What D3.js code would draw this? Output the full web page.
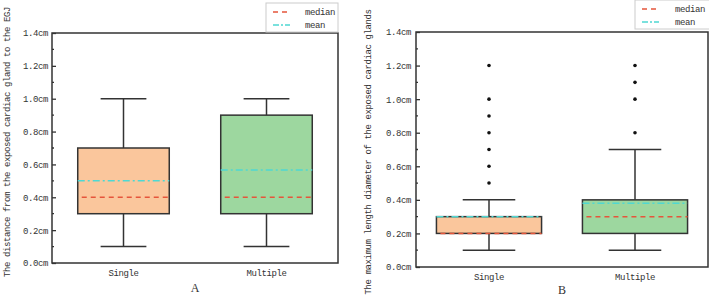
<!DOCTYPE html>
<html>
<head>
<meta charset="utf-8">
<script src="https://cdn.jsdelivr.net/npm/d3@7"></script>
<style>
  body { margin: 0; background: #fff; }
  text { font-family: "Liberation Mono", "DejaVu Sans Mono", monospace; fill: #333; }
</style>
</head>
<body>
<div id="chart"></div>
<script>
// box plot stats
const categories = ["Single", "Multiple"];
const yTicks = [0, 0.2, 0.4, 0.6, 0.8, 1.0, 1.2, 1.4];

// panel A: distance from exposed cardiac gland to EGJ
const lowA = [0.1, 0.1];
const q1A = [0.3, 0.3];
const medA = [0.4, 0.4];
const q3A = [0.7, 0.9];
const highA = [1.0, 1.0];
const meanA = [0.5, 0.566];
const outA = [[], []];

// panel B: maximum length diameter of exposed cardiac glands
const lowB = [0.1, 0.1];
const q1B = [0.2, 0.2];
const medB = [0.2, 0.3];
const q3B = [0.3, 0.4];
const highB = [0.4, 0.7];
const meanB = [0.3, 0.38];
const outB = [[0.5, 0.6, 0.7, 0.8, 0.9, 1.0, 1.2], [0.8, 1.0, 1.1, 1.2]];

const fills = ["#fac69c", "#9dd79f"];
const medColor = "#e5553b", meanColor = "#4fd8d2";

const svg = d3.select("#chart").append("svg")
    .attr("width", 709).attr("height", 297);

function panel(o) {
    const g = svg.append("g");
    const x = d3.scalePoint().domain(categories)
        .range([o.left, o.right]).padding(0.5);
    const y = d3.scaleLinear().domain([0, 1.4]).range([o.bottom, o.top]);
    const bw = (o.right - o.left) * o.boxFrac;

    const rows = categories.map((c, i) => ({
        c, i, low: o.low[i], q1: o.q1[i], med: o.med[i], q3: o.q3[i],
        high: o.high[i], mean: o.mean[i], out: o.out[i]
    }));

    // whiskers
    rows.forEach(d => {
        const cx = x(d.c);
        g.append("line").attr("x1", cx).attr("x2", cx)
            .attr("y1", y(d.low)).attr("y2", y(d.q1));
        g.append("line").attr("x1", cx).attr("x2", cx)
            .attr("y1", y(d.q3)).attr("y2", y(d.high));
        [d.low, d.high].forEach(v => g.append("line")
            .attr("x1", cx - bw / 4).attr("x2", cx + bw / 4)
            .attr("y1", y(v)).attr("y2", y(v)));
    });
    g.selectAll("line").attr("stroke", "#333").attr("stroke-width", 1.5);

    // boxes
    g.selectAll("rect.box").data(rows).enter().append("rect")
        .attr("x", d => x(d.c) - bw / 2)
        .attr("y", d => y(d.q3))
        .attr("width", bw)
        .attr("height", d => y(d.q1) - y(d.q3))
        .attr("fill", d => fills[d.i])
        .attr("stroke", "#333").attr("stroke-width", 1.5);

    // median and mean lines
    g.selectAll("line.med").data(rows).enter().append("line")
        .attr("x1", d => x(d.c) - bw / 2 + 4).attr("x2", d => x(d.c) + bw / 2)
        .attr("y1", d => y(d.med)).attr("y2", d => y(d.med))
        .attr("stroke", medColor).attr("stroke-width", 1.5)
        .attr("stroke-dasharray", "5,4");
    g.selectAll("line.mean").data(rows).enter().append("line")
        .attr("x1", d => x(d.c) - bw / 2).attr("x2", d => x(d.c) + bw / 2)
        .attr("y1", d => y(d.mean)).attr("y2", d => y(d.mean))
        .attr("stroke", meanColor).attr("stroke-width", 1.5)
        .attr("stroke-dasharray", "7,3,2,3");

    // outliers
    rows.forEach(d => {
        g.selectAll(null).data(d.out).enter().append("circle")
            .attr("cx", x(d.c)).attr("cy", v => y(v))
            .attr("r", 1.8).attr("fill", "#111");
    });

    // frame
    g.append("rect")
        .attr("x", o.left).attr("y", o.top)
        .attr("width", o.right - o.left).attr("height", o.bottom - o.top)
        .attr("fill", "none").attr("stroke", "#333").attr("stroke-width", 1.5);

    // y axis: inward major ticks, minor ticks in between
    const ax = g.append("g").attr("transform", `translate(${o.left},0)`)
        .call(d3.axisRight(y).tickValues(yTicks).tickSize(4).tickPadding(0)
            .tickFormat(d => d3.format(".1f")(d) + "cm"));
    ax.select(".domain").remove();
    ax.selectAll(".tick line").attr("stroke", "#333").attr("stroke-width", 1.3);
    ax.selectAll(".tick text")
        .attr("x", -o.labelGap).attr("text-anchor", "end")
        .attr("font-size", "9px").attr("letter-spacing", "-0.4px")
        .attr("font-family", null).attr("fill", "#333");
    g.selectAll("line.minor").data(d3.range(0.1, 1.4, 0.2)).enter().append("line")
        .attr("x1", o.left).attr("x2", o.left + 2)
        .attr("y1", d => y(d)).attr("y2", d => y(d))
        .attr("stroke", "#333").attr("stroke-width", 1.3);

    // x labels
    g.selectAll("text.cat").data(categories).enter().append("text")
        .attr("x", d => x(d)).attr("y", o.bottom + 13)
        .attr("text-anchor", "middle").attr("font-size", "9px")
        .attr("letter-spacing", "-0.4px").text(d => d);

    // panel letter
    g.append("text")
        .attr("x", (o.left + o.right) / 2).attr("y", o.letterY)
        .attr("text-anchor", "middle")
        .style("font-family", "'Liberation Serif', serif")
        .attr("font-size", "12px").text(o.letter);

    // y title
    g.append("text")
        .attr("transform", `translate(${o.titleX},${o.titleY}) rotate(-90)`)
        .attr("text-anchor", "middle").attr("font-size", "9px")
        .attr("letter-spacing", "-0.4px").text(o.title);

    // legend
    const lg = g.append("g");
    lg.append("rect")
        .attr("x", o.legX).attr("y", o.legY).attr("width", o.legW).attr("height", 29)
        .attr("fill", "#fff").attr("stroke", "#ccc").attr("stroke-width", 1);
    [["median", medColor, "5,4"], ["mean", meanColor, "6,2,2,2"]].forEach((e, k) => {
        const ly = o.legY + 9 + k * 13;
        lg.append("line")
            .attr("x1", o.legX + 7).attr("x2", o.legX + 24)
            .attr("y1", ly).attr("y2", ly)
            .attr("stroke", e[1]).attr("stroke-width", 1.5)
            .attr("stroke-dasharray", e[2]);
        lg.append("text")
            .attr("x", o.legX + o.legTextDx).attr("y", ly + 3)
            .attr("font-size", "9px").attr("letter-spacing", "-0.4px")
            .text(e[0]);
    });
}

panel({
    left: 52, right: 338, top: 33, bottom: 263, boxFrac: 0.32,
    low: lowA, q1: q1A, med: medA, q3: q3A, high: highA, mean: meanA, out: outA,
    labelGap: 4, letter: "A", letterY: 292,
    title: "The distance from the exposed cardiac gland to the EGJ",
    titleX: 10, titleY: 142,
    legX: 266, legY: 3, legW: 72, legTextDx: 39
});

panel({
    left: 416, right: 708, top: 32, bottom: 267, boxFrac: 0.36,
    low: lowB, q1: q1B, med: medB, q3: q3B, high: highB, mean: meanB, out: outB,
    labelGap: 5, letter: "B", letterY: 294,
    title: "The maximum length diameter of the exposed cardiac glands",
    titleX: 371, titleY: 152,
    legX: 635, legY: 0, legW: 78, legTextDx: 40
});
</script>
</body>
</html>
